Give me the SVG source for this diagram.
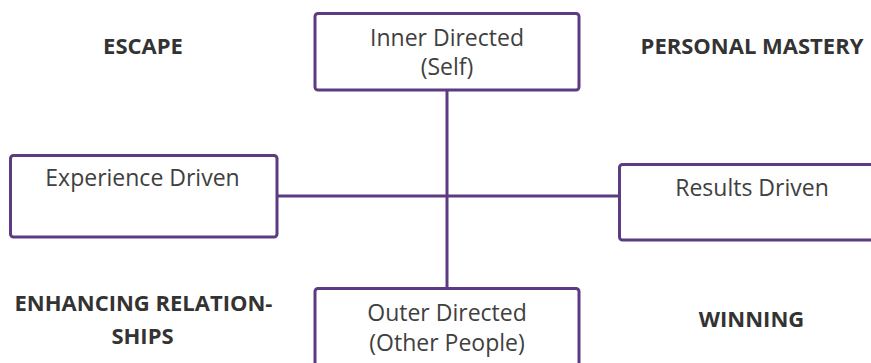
<svg xmlns="http://www.w3.org/2000/svg" width="871" height="363" viewBox="0 0 871 363">
<style>
.box{fill:#fff;stroke:#5c3b82;stroke-width:3}
.line{stroke:#5c3b82;stroke-width:3;fill:none}
.t{font-family:"Open Sans","Liberation Sans",sans-serif;font-size:23px;fill:#404040;text-anchor:middle}
.q{font-family:"Open Sans","Liberation Sans",sans-serif;font-size:22px;font-weight:bold;fill:#333;text-anchor:middle}
</style>
<rect width="871" height="363" fill="#fff"/>
<g id="connectors">
<line class="line" x1="447" y1="90" x2="447" y2="288"/>
<line class="line" x1="277" y1="196" x2="619" y2="196"/>
</g>
<g id="inner">
<rect class="box" x="315" y="13.5" width="264" height="76.5" rx="3"/>
<text class="t" x="447" y="46">Inner Directed</text>
<text class="t" x="447" y="75">(Self)</text>
</g>
<g id="experience">
<rect class="box" x="10.5" y="155.5" width="266.5" height="81.5" rx="3"/>
<text class="t" x="142.5" y="186">Experience Driven</text>
</g>
<g id="results">
<rect class="box" x="619.5" y="164.5" width="260" height="75.5" rx="3"/>
<text class="t" x="752" y="196">Results Driven</text>
</g>
<g id="outer">
<rect class="box" x="315" y="288.5" width="264" height="90" rx="3"/>
<text class="t" x="447" y="321">Outer Directed</text>
<text class="t" x="447" y="351">(Other People)</text>
</g>
<g id="quadrants">
<text class="q" x="143" y="54">ESCAPE</text>
<text class="q" x="752" y="54">PERSONAL MASTERY</text>
<text class="q" x="143.5" y="311">ENHANCING RELATION-</text>
<text class="q" x="142.5" y="344">SHIPS</text>
<text class="q" x="751.5" y="327">WINNING</text>
</g>
</svg>
